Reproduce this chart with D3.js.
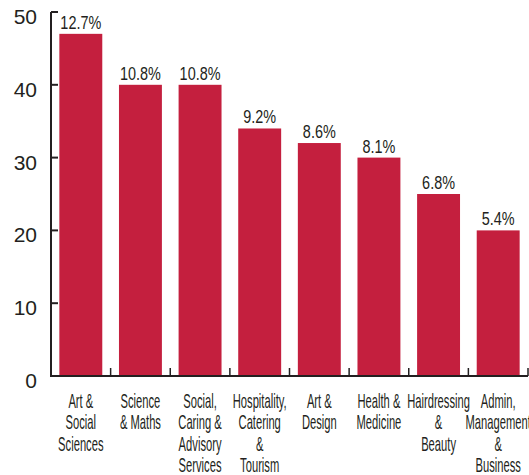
<!DOCTYPE html>
<html lang="en">
<head>
  <meta charset="UTF-8">
  <title>Subjects</title>
  <style>
    body { margin: 0; background: #fff; }
  </style>
</head>
<body>
  <svg width="529" height="475" id="chart"></svg>
  <script src="https://cdn.jsdelivr.net/npm/d3@7"></script>
  <script>
    const categories = [
      ['Art &', 'Social', 'Sciences'],
      ['Science', '& Maths'],
      ['Social,', 'Caring &', 'Advisory', 'Services'],
      ['Hospitality,', 'Catering', '&', 'Tourism'],
      ['Art &', 'Design'],
      ['Health &', 'Medicine'],
      ['Hairdressing', '&', 'Beauty'],
      ['Admin,', 'Management', '&', 'Business']
    ];
    const values = [47, 40, 40, 34, 32, 30, 25, 20];
    const shares = ['12.7%', '10.8%', '10.8%', '9.2%', '8.6%', '8.1%', '6.8%', '5.4%'];
    const yTicks = [0, 10, 20, 30, 40, 50];

    const svg = d3.select('#chart');
    const ink = '#231f20';
    const red = '#c41f3e';
    const font = '"Liberation Sans", Arial, sans-serif';

    const x = d3.scaleBand()
        .domain(d3.range(values.length))
        .range([51, 528])
        .paddingInner(0.28)
        .paddingOuter(0.14);
    const y = d3.scaleLinear().domain([0, 50]).range([376, 12]);

    // bars
    svg.selectAll('rect.bar').data(values).join('rect')
        .attr('class', 'bar')
        .attr('x', (d, i) => x(i))
        .attr('width', x.bandwidth())
        .attr('y', d => y(d))
        .attr('height', d => y(0) - y(d))
        .attr('fill', red);

    // value labels (condensed look)
    svg.selectAll('text.val').data(values).join('text')
        .attr('class', 'val')
        .attr('transform', (d, i) => `translate(${x(i) + x.bandwidth() / 2},${y(d) - 5}) scale(0.76,1)`)
        .attr('text-anchor', 'middle')
        .attr('font-family', font)
        .attr('font-size', 19)
        .attr('fill', ink)
        .text((d, i) => shares[i]);

    // y axis
    const yAxis = svg.append('g');
    yAxis.append('line')
        .attr('x1', 51).attr('x2', 51)
        .attr('y1', y(50)).attr('y2', y(0) + 1)
        .attr('stroke', ink).attr('stroke-width', 2);
    yAxis.selectAll('line.yt').data(yTicks.filter(t => t > 0)).join('line')
        .attr('class', 'yt')
        .attr('x1', 51).attr('x2', 58)
        .attr('y1', d => y(d)).attr('y2', d => y(d))
        .attr('stroke', ink).attr('stroke-width', 2);
    yAxis.selectAll('text').data(yTicks).join('text')
        .attr('x', 37)
        .attr('y', d => y(d) + 12)
        .attr('text-anchor', 'end')
        .attr('font-family', font)
        .attr('font-size', 21)
        .attr('fill', ink)
        .text(d => d);

    // x axis
    svg.append('line')
        .attr('x1', 50).attr('x2', 528)
        .attr('y1', y(0)).attr('y2', y(0))
        .attr('stroke', ink).attr('stroke-width', 2);
    svg.selectAll('line.xt').data(d3.range(1, values.length + 1)).join('line')
        .attr('class', 'xt')
        .attr('x1', i => x(0) - x.step() * x.paddingOuter() + i * x.step())
        .attr('x2', i => x(0) - x.step() * x.paddingOuter() + i * x.step())
        .attr('y1', y(0)).attr('y2', y(0) - 8)
        .attr('stroke', ink).attr('stroke-width', 1.5);

    // category labels
    const cat = svg.selectAll('g.cat').data(categories).join('g')
        .attr('class', 'cat')
        .attr('transform', (d, i) => `translate(${x(i) + x.bandwidth() / 2},0)`);
    cat.selectAll('text').data(d => d).join('text')
        .attr('transform', (d, j) => `translate(0,${408 + j * 21.3}) scale(0.56,1)`)
        .attr('text-anchor', 'middle')
        .attr('font-family', font)
        .attr('font-size', 20)
        .attr('fill', ink)
        .text(d => d);
  </script>
</body>
</html>
